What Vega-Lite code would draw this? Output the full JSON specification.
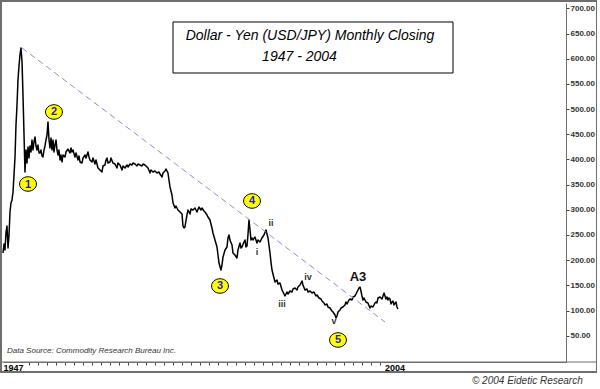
{
  "$schema": "https://vega.github.io/schema/vega-lite/v6.json",
  "width": 563,
  "height": 359,
  "autosize": {"type": "none"},
  "padding": {"left": 3, "top": 3, "right": 31, "bottom": 27},
  "background": "white",
  "config": {"view": {"stroke": null}, "font": "Liberation Sans", "axis": {"labelOverlap": false, "labelBound": false, "labelFlush": false}},
  "data": {"values": [{}]},
  "datasets": {
    "usdjpy": [
      {"year":1947.00,"value":214.2},{"year":1947.15,"value":232.1},{"year":1947.29,"value":220.2},{"year":1947.44,"value":255.9},{"year":1947.58,"value":267.8},{"year":1947.73,"value":224.2},{"year":1947.87,"value":248.0},{"year":1948.02,"value":295.6},{"year":1948.16,"value":313.5},{"year":1948.31,"value":319.5},{"year":1948.46,"value":335.3},{"year":1948.60,"value":369.1},{"year":1948.75,"value":404.8},{"year":1948.89,"value":468.4},{"year":1949.04,"value":508.1},{"year":1949.18,"value":557.7},{"year":1949.33,"value":585.5},{"year":1949.47,"value":607.4},{"year":1949.62,"value":621.3},{"year":1949.77,"value":593.5},{"year":1949.91,"value":527.9},{"year":1950.06,"value":448.5},{"year":1950.20,"value":375.1},{"year":1950.35,"value":418.7},{"year":1950.49,"value":392.9},{"year":1950.64,"value":424.7},{"year":1950.78,"value":402.9},{"year":1950.93,"value":426.7},{"year":1951.08,"value":414.8},{"year":1951.22,"value":438.6},{"year":1951.37,"value":418.7},{"year":1951.51,"value":434.6},{"year":1951.66,"value":444.5},{"year":1951.80,"value":426.7},{"year":1951.95,"value":418.7},{"year":1952.09,"value":428.7},{"year":1952.24,"value":412.8},{"year":1952.39,"value":412.8},{"year":1952.53,"value":418.7},{"year":1952.68,"value":406.8},{"year":1952.82,"value":404.8},{"year":1952.97,"value":418.7},{"year":1953.11,"value":426.7},{"year":1953.26,"value":438.6},{"year":1953.41,"value":448.5},{"year":1953.55,"value":474.3},{"year":1953.70,"value":438.6},{"year":1953.84,"value":422.7},{"year":1953.99,"value":442.6},{"year":1954.13,"value":418.7},{"year":1954.28,"value":438.6},{"year":1954.42,"value":414.8},{"year":1954.57,"value":428.7},{"year":1954.72,"value":438.6},{"year":1954.86,"value":418.7},{"year":1955.01,"value":408.8},{"year":1955.15,"value":418.7},{"year":1955.30,"value":398.9},{"year":1955.44,"value":408.8},{"year":1955.59,"value":394.9},{"year":1955.73,"value":408.8},{"year":1956.03,"value":404.8},{"year":1956.17,"value":414.8},{"year":1956.46,"value":420.7},{"year":1956.75,"value":412.8},{"year":1956.90,"value":422.7},{"year":1957.04,"value":414.8},{"year":1957.19,"value":418.7},{"year":1957.48,"value":404.8},{"year":1957.63,"value":412.8},{"year":1957.92,"value":398.9},{"year":1958.06,"value":406.8},{"year":1958.21,"value":394.9},{"year":1958.50,"value":392.9},{"year":1958.65,"value":402.9},{"year":1958.94,"value":408.8},{"year":1959.08,"value":402.9},{"year":1959.37,"value":414.8},{"year":1959.52,"value":404.8},{"year":1959.66,"value":398.9},{"year":1959.96,"value":394.9},{"year":1960.10,"value":402.9},{"year":1960.39,"value":390.9},{"year":1960.54,"value":398.9},{"year":1960.83,"value":383.0},{"year":1961.12,"value":379.0},{"year":1961.41,"value":375.1},{"year":1961.56,"value":387.0},{"year":1961.85,"value":389.0},{"year":1961.99,"value":398.9},{"year":1962.14,"value":402.9},{"year":1962.28,"value":392.9},{"year":1962.58,"value":394.9},{"year":1962.72,"value":402.9},{"year":1963.01,"value":392.9},{"year":1963.30,"value":390.9},{"year":1963.59,"value":383.0},{"year":1963.74,"value":392.9},{"year":1964.03,"value":389.0},{"year":1964.32,"value":379.0},{"year":1964.47,"value":387.0},{"year":1964.76,"value":383.0},{"year":1965.05,"value":389.0},{"year":1965.20,"value":385.0},{"year":1965.49,"value":390.9},{"year":1965.78,"value":389.0},{"year":1965.92,"value":392.9},{"year":1966.22,"value":390.9},{"year":1966.51,"value":387.0},{"year":1966.65,"value":390.9},{"year":1966.94,"value":389.0},{"year":1967.23,"value":387.0},{"year":1967.38,"value":390.9},{"year":1967.67,"value":389.0},{"year":1967.96,"value":385.0},{"year":1968.11,"value":383.0},{"year":1968.40,"value":373.1},{"year":1968.54,"value":379.0},{"year":1968.84,"value":375.1},{"year":1969.13,"value":377.0},{"year":1969.42,"value":373.1},{"year":1969.71,"value":375.1},{"year":1969.85,"value":371.1},{"year":1970.15,"value":365.1},{"year":1970.29,"value":373.1},{"year":1970.58,"value":377.0},{"year":1970.73,"value":381.0},{"year":1971.02,"value":373.1},{"year":1971.16,"value":359.2},{"year":1971.31,"value":345.3},{"year":1971.60,"value":329.4},{"year":1971.75,"value":313.5},{"year":1972.04,"value":303.6},{"year":1972.18,"value":307.6},{"year":1972.47,"value":299.6},{"year":1972.77,"value":295.6},{"year":1973.06,"value":291.7},{"year":1973.20,"value":267.8},{"year":1973.35,"value":263.9},{"year":1973.49,"value":265.9},{"year":1973.78,"value":289.7},{"year":1973.93,"value":299.6},{"year":1974.22,"value":291.7},{"year":1974.37,"value":301.6},{"year":1974.66,"value":299.6},{"year":1974.95,"value":303.6},{"year":1975.24,"value":295.6},{"year":1975.53,"value":305.6},{"year":1975.82,"value":299.6},{"year":1975.97,"value":303.6},{"year":1976.26,"value":297.6},{"year":1976.41,"value":295.6},{"year":1976.70,"value":289.7},{"year":1976.84,"value":285.7},{"year":1977.13,"value":279.8},{"year":1977.42,"value":263.9},{"year":1977.57,"value":253.9},{"year":1977.86,"value":240.0},{"year":1978.15,"value":226.1},{"year":1978.30,"value":210.3},{"year":1978.44,"value":194.4},{"year":1978.73,"value":180.5},{"year":1978.88,"value":190.4},{"year":1979.03,"value":206.3},{"year":1979.32,"value":220.2},{"year":1979.61,"value":226.1},{"year":1979.75,"value":244.0},{"year":1979.90,"value":250.0},{"year":1980.04,"value":240.0},{"year":1980.34,"value":230.1},{"year":1980.48,"value":214.2},{"year":1980.77,"value":210.3},{"year":1981.06,"value":204.3},{"year":1981.21,"value":220.2},{"year":1981.50,"value":234.1},{"year":1981.65,"value":224.2},{"year":1981.79,"value":226.1},{"year":1982.08,"value":236.1},{"year":1982.23,"value":240.0},{"year":1982.37,"value":226.1},{"year":1982.52,"value":228.1},{"year":1982.66,"value":250.0},{"year":1982.81,"value":279.8},{"year":1982.96,"value":259.9},{"year":1983.10,"value":240.0},{"year":1983.25,"value":244.0},{"year":1983.39,"value":240.0},{"year":1983.68,"value":246.0},{"year":1983.97,"value":234.1},{"year":1984.12,"value":240.0},{"year":1984.41,"value":236.1},{"year":1984.70,"value":244.0},{"year":1984.99,"value":250.0},{"year":1985.28,"value":259.9},{"year":1985.43,"value":252.0},{"year":1985.58,"value":244.0},{"year":1985.87,"value":214.2},{"year":1986.01,"value":196.4},{"year":1986.16,"value":180.5},{"year":1986.45,"value":164.6},{"year":1986.60,"value":156.7},{"year":1986.89,"value":160.6},{"year":1987.03,"value":152.7},{"year":1987.32,"value":154.7},{"year":1987.62,"value":140.8},{"year":1987.91,"value":132.8},{"year":1988.05,"value":128.9},{"year":1988.34,"value":136.8},{"year":1988.49,"value":132.8},{"year":1988.78,"value":138.8},{"year":1989.07,"value":136.8},{"year":1989.22,"value":142.8},{"year":1989.51,"value":144.7},{"year":1989.80,"value":140.8},{"year":1989.94,"value":146.7},{"year":1990.23,"value":150.7},{"year":1990.53,"value":158.6},{"year":1990.67,"value":150.7},{"year":1990.96,"value":140.8},{"year":1991.25,"value":142.8},{"year":1991.40,"value":136.8},{"year":1991.69,"value":138.8},{"year":1991.98,"value":134.8},{"year":1992.27,"value":136.8},{"year":1992.56,"value":128.9},{"year":1992.71,"value":130.8},{"year":1993.00,"value":124.9},{"year":1993.29,"value":122.9},{"year":1993.44,"value":118.9},{"year":1993.73,"value":115.0},{"year":1993.87,"value":111.0},{"year":1994.16,"value":113.0},{"year":1994.31,"value":107.0},{"year":1994.60,"value":105.0},{"year":1994.89,"value":99.1},{"year":1995.04,"value":97.1},{"year":1995.33,"value":91.1},{"year":1995.48,"value":85.2},{"year":1995.62,"value":89.2},{"year":1995.77,"value":97.1},{"year":1996.06,"value":101.1},{"year":1996.20,"value":105.0},{"year":1996.49,"value":107.0},{"year":1996.78,"value":111.0},{"year":1996.93,"value":116.9},{"year":1997.08,"value":113.0},{"year":1997.37,"value":120.9},{"year":1997.51,"value":122.9},{"year":1997.80,"value":120.9},{"year":1997.95,"value":126.9},{"year":1998.24,"value":128.9},{"year":1998.39,"value":132.8},{"year":1998.53,"value":136.8},{"year":1998.68,"value":140.8},{"year":1998.82,"value":144.7},{"year":1998.97,"value":146.7},{"year":1999.11,"value":138.8},{"year":1999.26,"value":128.9},{"year":1999.41,"value":120.9},{"year":1999.55,"value":124.9},{"year":1999.84,"value":116.9},{"year":2000.13,"value":115.0},{"year":2000.42,"value":105.0},{"year":2000.57,"value":109.0},{"year":2000.86,"value":107.0},{"year":2001.15,"value":115.0},{"year":2001.30,"value":116.9},{"year":2001.44,"value":115.0},{"year":2001.59,"value":124.9},{"year":2001.88,"value":126.9},{"year":2002.17,"value":122.9},{"year":2002.47,"value":134.8},{"year":2002.61,"value":128.9},{"year":2002.75,"value":122.9},{"year":2002.90,"value":126.9},{"year":2003.04,"value":120.9},{"year":2003.19,"value":124.9},{"year":2003.34,"value":122.9},{"year":2003.48,"value":113.0},{"year":2003.63,"value":116.9},{"year":2003.77,"value":118.9},{"year":2003.92,"value":111.0},{"year":2004.06,"value":115.0},{"year":2004.21,"value":116.9},{"year":2004.35,"value":107.0},{"year":2004.50,"value":103.0}
    ],
    "trend": [
      {"year": 1949.77, "value": 621.2},
      {"year": 2002.61, "value": 77.2}
    ],
    "waves": [
      {"year": 1950.64, "value": 351.2, "label": "1"},
      {"year": 1954.42, "value": 494.2, "label": "2"},
      {"year": 1978.59, "value": 148.7, "label": "3"},
      {"year": 1983.25, "value": 317.5, "label": "4"},
      {"year": 1995.77, "value": 41.5, "label": "5"}
    ],
    "subwaves": [
      {"year": 1983.97, "value": 216.2, "label": "i"},
      {"year": 1986.01, "value": 273.8, "label": "ii"},
      {"year": 1987.62, "value": 113.0, "label": "iii"},
      {"year": 1991.40, "value": 166.6, "label": "iv"},
      {"year": 1995.18, "value": 79.2, "label": "v"}
    ]
  },
  "layer": [
    {
      "data": {"name": "usdjpy"},
      "mark": {"type": "line", "stroke": "black", "strokeWidth": 1.5, "strokeJoin": "round"},
      "encoding": {
        "x": {
          "field": "year", "type": "quantitative",
          "scale": {"domain": [1947, 2028.96], "nice": false, "zero": false},
          "axis": {
            "orient": "bottom", "title": null, "grid": false, "tickCount": 500,
            "values": [1947, 1950.78, 1952.09, 1953.40, 1954.71, 1956.02, 1957.33, 1958.64, 1959.95, 1961.26, 1962.57, 1963.88, 1965.19, 1966.50, 1967.81, 1969.12, 1970.43, 1971.74, 1973.05, 1974.36, 1975.67, 1976.98, 1978.29, 1979.60, 1980.91, 1982.22, 1983.53, 1984.84, 1986.15, 1987.46, 1988.77, 1990.08, 1991.39, 1992.70, 1994.01, 1995.32, 1996.63, 1997.94, 1999.25, 2000.56, 2001.87, 2004],
            "labelExpr": "datum.value == 1947 || datum.value == 2004 ? format(datum.value, 'd') : ''",
            "labelAlign": {"condition": {"test": "datum.value == 1947", "value": "left"}, "value": "center"},
            "tickOpacity": {"condition": {"test": "datum.value == 1947 || datum.value == 2004", "value": 0}, "value": 1},
            "labelFlush": false, "labelOverlap": false, "labelBound": false,
            "labelFontWeight": "bold", "labelFontSize": 9, "labelColor": "black",
            "labelBaseline": "top", "labelPadding": -2,
            "tickSize": 3, "tickColor": "#444", "domainColor": "#6e6e6e"
          }
        },
        "y": {
          "field": "value", "type": "quantitative",
          "scale": {"domain": [-2.2, 710.6], "nice": false, "zero": false},
          "axis": {
            "orient": "right", "title": null, "grid": false, "tickCount": 500,
            "values": [50, 100, 150, 200, 250, 300, 350, 400, 450, 500, 550, 600, 650, 700],
            "format": ".2f", "labelFontSize": 8, "labelFontWeight": "bold", "labelColor": "#333",
            "labelOverlap": false, "labelBound": false, "labelFlush": false,
            "labelPadding": 1, "tickSize": 3, "tickColor": "#444", "domainColor": "#6e6e6e"
          }
        }
      }
    },
    {
      "mark": {"type": "rect", "fill": null, "stroke": "#6e6e6e", "strokeWidth": 2},
      "encoding": {
        "x": {"datum": 1946.71, "type": "quantitative"},
        "x2": {"datum": 2033.47},
        "y": {"datum": 714.57, "type": "quantitative"},
        "y2": {"datum": -22.06}
      }
    },
    {
      "mark": {"type": "rule", "stroke": "#6e6e6e", "strokeWidth": 1},
      "encoding": {
        "x": {"datum": 1946.71, "type": "quantitative"},
        "x2": {"datum": 2033.47},
        "y": {"datum": -2.2, "type": "quantitative"}
      }
    },
    {
      "data": {"name": "trend"},
      "mark": {"type": "line", "stroke": "#8c8cdc", "strokeWidth": 1, "strokeDash": [6, 4]},
      "encoding": {
        "x": {"field": "year", "type": "quantitative"},
        "y": {"field": "value", "type": "quantitative"}
      }
    },
    {
      "mark": {"type": "rect", "fill": "white", "stroke": "black", "strokeWidth": 1},
      "encoding": {
        "x": {"datum": 1971.75, "type": "quantitative"},
        "x2": {"datum": 2012.51},
        "y": {"datum": 672.9, "type": "quantitative"},
        "y2": {"datum": 571.6}
      }
    },
    {
      "mark": {"type": "text", "fontSize": 14, "fontStyle": "italic", "align": "center", "baseline": "middle", "color": "black"},
      "encoding": {
        "x": {"datum": 1991.69, "type": "quantitative"},
        "y": {"datum": 645.1, "type": "quantitative"},
        "text": {"value": "Dollar  -  Yen (USD/JPY) Monthly Closing"}
      }
    },
    {
      "mark": {"type": "text", "fontSize": 14, "fontStyle": "italic", "align": "center", "baseline": "middle", "color": "black"},
      "encoding": {
        "x": {"datum": 1990.16, "type": "quantitative"},
        "y": {"datum": 603.4, "type": "quantitative"},
        "text": {"value": "1947  -  2004"}
      }
    },
    {
      "data": {"name": "waves"},
      "mark": {"type": "point", "shape": "M -1 0 A 1 0.86 0 1 1 1 0 A 1 0.86 0 1 1 -1 0 Z", "size": 285, "filled": true, "fill": "#ffff00", "stroke": "black", "strokeWidth": 1, "opacity": 1},
      "encoding": {
        "x": {"field": "year", "type": "quantitative"},
        "y": {"field": "value", "type": "quantitative"}
      }
    },
    {
      "data": {"name": "waves"},
      "mark": {"type": "text", "fontSize": 11, "fontWeight": "bold", "color": "#1c1cc8", "align": "center", "baseline": "middle", "dy": 0.5},
      "encoding": {
        "x": {"field": "year", "type": "quantitative"},
        "y": {"field": "value", "type": "quantitative"},
        "text": {"field": "label"}
      }
    },
    {
      "data": {"name": "subwaves"},
      "mark": {"type": "text", "fontSize": 9, "fontWeight": "bold", "color": "#333", "align": "center", "baseline": "middle"},
      "encoding": {
        "x": {"field": "year", "type": "quantitative"},
        "y": {"field": "value", "type": "quantitative"},
        "text": {"field": "label"}
      }
    },
    {
      "mark": {"type": "text", "fontSize": 13, "fontWeight": "bold", "color": "#111", "align": "center", "baseline": "middle"},
      "encoding": {
        "x": {"datum": 1998.68, "type": "quantitative"},
        "y": {"datum": 166.6, "type": "quantitative"},
        "text": {"value": "A3"}
      }
    },
    {
      "mark": {"type": "text", "fontSize": 8, "fontStyle": "italic", "color": "#333", "align": "left", "baseline": "middle"},
      "encoding": {
        "x": {"datum": 1947.58, "type": "quantitative"},
        "y": {"datum": 19.7, "type": "quantitative"},
        "text": {"value": "Data Source: Commodity Research Bureau Inc."}
      }
    },
    {
      "mark": {"type": "text", "fontSize": 10, "fontStyle": "italic", "color": "#333", "align": "left", "baseline": "middle"},
      "encoding": {
        "x": {"datum": 2015.27, "type": "quantitative"},
        "y": {"datum": -39.9, "type": "quantitative"},
        "text": {"value": "© 2004 Eidetic Research"}
      }
    }
  ]
}
